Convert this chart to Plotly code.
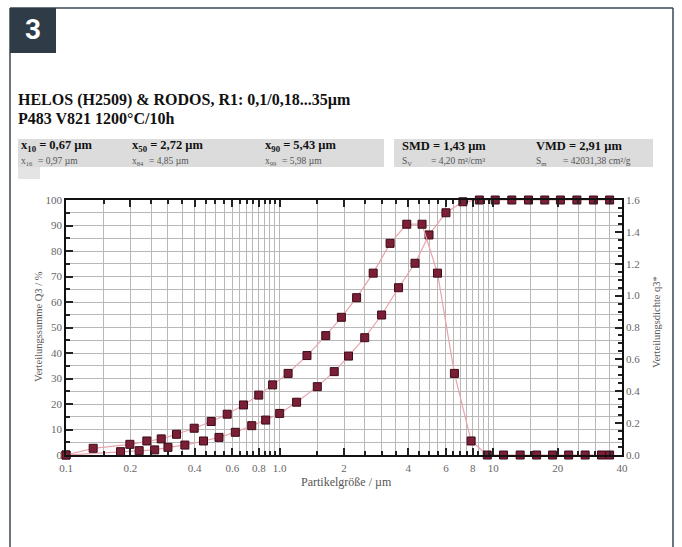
import plotly.graph_objects as go

# ---------------- data ----------------
size_upper = [0.1, 0.18, 0.22, 0.26, 0.30, 0.36, 0.44, 0.52, 0.62, 0.74, 0.86, 1.0,
              1.2, 1.5, 1.8, 2.1, 2.5, 3.0, 3.6, 4.3, 5.0, 6.0, 7.2, 8.6, 10.2,
              12.2, 14.6, 17.4, 20.6, 24.6, 29.4, 35.0]
Q3 = [0, 1.3, 1.7, 2.0, 3.0, 3.9, 5.5, 6.9, 8.9, 11.5, 13.7, 16.3,
      20.7, 26.8, 32.7, 38.8, 46.0, 54.9, 65.6, 75.2, 86.3, 95.0, 99.3, 100, 100,
      100, 100, 100, 100, 100, 100, 100]

size_mid = [0.1, 0.134, 0.199, 0.239, 0.279, 0.329, 0.398, 0.478, 0.568, 0.677, 0.798,
            0.927, 1.095, 1.342, 1.643, 1.944, 2.291, 2.739, 3.286, 3.934, 4.637,
            5.477, 6.573, 7.869, 9.366, 11.16, 13.35, 15.94, 18.93, 22.51, 26.89,
            32.08, 35.0]
q3 = [0, 0.042, 0.067, 0.088, 0.101, 0.130, 0.168, 0.210, 0.256, 0.314, 0.376,
      0.440, 0.512, 0.624, 0.749, 0.864, 0.987, 1.141, 1.328, 1.448, 1.448,
      1.141, 0.512, 0.088, 0, 0, 0, 0, 0, 0, 0, 0, 0]

x_major = [0.1, 0.2, 0.4, 0.6, 0.8, 1.0, 2, 4, 6, 8, 10, 20, 40]
x_major_text = ["0.1", "0.2", "0.4", "0.6", "0.8", "1.0", "2", "4", "6", "8", "10", "20", "40"]
x_grid = [0.15, 0.25, 0.3, 0.35, 0.45, 0.5, 0.55, 0.65, 0.7, 0.75, 0.85, 0.9, 0.95,
          1.5, 2.5, 3, 3.5, 4.5, 5, 5.5, 6.5, 7, 7.5, 8.5, 9, 9.5, 15, 25, 30, 35]

title_lines = ["HELOS (H2509) &amp; RODOS, R1: 0,1/0,18...35µm", "P483 V821 1200°C/10h"]
stats_main = ["x<sub>10</sub> = 0,67 µm", "x<sub>50</sub> = 2,72 µm", "x<sub>90</sub> = 5,43 µm",
              "SMD = 1,43 µm", "VMD = 2,91 µm"]
stats_sub_lbl = ["x<sub>16</sub>", "x<sub>84</sub>", "x<sub>99</sub>", "S<sub>V</sub>", "S<sub>m</sub>"]
stats_sub_val = ["= 0,97 µm", "= 4,85 µm", "= 5,98 µm", "= 4,20 m²/cm³", "= 42031,38 cm²/g"]

# ---------------- layout helpers ----------------
W, H = 682, 547
L, R, T, B = 66, 622, 200, 455


def px(x):
    return (x - L) / (R - L)


def py(y):
    return (B - y) / (B - T)


SERIF = "Liberation Serif, Times New Roman, serif"
MARK = "#7a1f35"
LINE = "#e9a3ad"
GRID = "#b8b8b8"

fig = go.Figure()
fig.add_trace(go.Scatter(
    x=size_upper, y=Q3, mode="lines+markers", yaxis="y", cliponaxis=False,
    line=dict(color=LINE, width=1.2),
    marker=dict(symbol="square", size=8, color=MARK, line=dict(color="#3d0a18", width=1)),
    showlegend=False))
fig.add_trace(go.Scatter(
    x=size_mid, y=q3, mode="lines+markers", yaxis="y2", cliponaxis=False,
    line=dict(color=LINE, width=1.2),
    marker=dict(symbol="square", size=8, color=MARK, line=dict(color="#3d0a18", width=1)),
    showlegend=False))

shapes = [
    # outer frame
    dict(type="line", xref="paper", yref="paper", x0=px(10), x1=px(10), y0=py(8), y1=py(560),
         line=dict(color="#3b4650", width=1.5)),
    dict(type="line", xref="paper", yref="paper", x0=px(673), x1=px(673), y0=py(8), y1=py(560),
         line=dict(color="#3b4650", width=1.5)),
    dict(type="line", xref="paper", yref="paper", x0=px(10), x1=px(673), y0=py(8), y1=py(8),
         line=dict(color="#3b4650", width=1.5)),
    # number box
    dict(type="rect", xref="paper", yref="paper", x0=px(10), x1=px(56), y0=py(8), y1=py(53),
         fillcolor="#2f3b47", line=dict(width=0)),
    # grey header bands
    dict(type="rect", xref="paper", yref="paper", x0=px(18), x1=px(384), y0=py(139), y1=py(167),
         fillcolor="#dcdcdc", line=dict(width=0), layer="below"),
    dict(type="rect", xref="paper", yref="paper", x0=px(18), x1=px(40), y0=py(167), y1=py(179),
         fillcolor="#e4e4e4", line=dict(width=0), layer="below"),
    dict(type="rect", xref="paper", yref="paper", x0=px(394), x1=px(653), y0=py(139), y1=py(167),
         fillcolor="#dcdcdc", line=dict(width=0), layer="below"),
]

ann = []
ann.append(dict(text="<b>3</b>", x=px(33), y=py(30), xref="paper", yref="paper", showarrow=False,
                font=dict(family="Roboto, DejaVu Sans, sans-serif", size=28, color="white"),
                xanchor="center", yanchor="middle"))
for i, t in enumerate(title_lines):
    ann.append(dict(text="<b>" + t + "</b>", x=px(16), y=py(100 + 18 * i), xref="paper", yref="paper",
                    showarrow=False, xanchor="left", yanchor="middle",
                    font=dict(family=SERIF, size=16, color="#111")))
cols = [19, 130, 263, 400, 534]
val_pos = [36, 147, 280, 429, 561]
for i, c in enumerate(cols):
    ann.append(dict(text="<b>" + stats_main[i] + "</b>", x=px(c), y=py(146), xref="paper", yref="paper",
                    showarrow=False, xanchor="left", yanchor="middle",
                    font=dict(family=SERIF, size=12.5, color="#111")))
    ann.append(dict(text=stats_sub_lbl[i], x=px(c), y=py(161), xref="paper", yref="paper",
                    showarrow=False, xanchor="left", yanchor="middle",
                    font=dict(family=SERIF, size=9.5, color="#555")))
    ann.append(dict(text=stats_sub_val[i], x=px(val_pos[i]), y=py(161), xref="paper", yref="paper",
                    showarrow=False, xanchor="left", yanchor="middle",
                    font=dict(family=SERIF, size=9.5, color="#555")))
# axis titles
ann.append(dict(text="Verteilungssumme Q3 / %", x=px(38), y=py(327), xref="paper", yref="paper",
                showarrow=False, textangle=-90, xanchor="center", yanchor="middle",
                font=dict(family=SERIF, size=10.5, color="#555")))
ann.append(dict(text="Verteilungsdichte q3*", x=px(656), y=py(322), xref="paper", yref="paper",
                showarrow=False, textangle=-90, xanchor="center", yanchor="middle",
                font=dict(family=SERIF, size=10.5, color="#555")))
ann.append(dict(text="Partikelgröße / µm", x=px(346), y=py(482), xref="paper", yref="paper",
                showarrow=False, xanchor="center", yanchor="middle",
                font=dict(family=SERIF, size=12, color="#555")))

tickfont = dict(family=SERIF, size=11, color="#666")

fig.update_layout(
    width=W, height=H, autosize=False,
    margin=dict(l=L, r=W - R, t=T, b=H - B, pad=0),
    paper_bgcolor="white", plot_bgcolor="white",
    shapes=shapes, annotations=ann,
    xaxis=dict(type="log", range=[-1, 1.60206], tickmode="array", tickvals=x_major,
               ticktext=x_major_text, ticks="inside", ticklen=7, tickwidth=1.5, tickcolor="#222",
               showgrid=True, gridcolor=GRID, gridwidth=1,
               minor=dict(tickmode="array", tickvals=x_grid, ticks="inside", ticklen=4,
                          tickcolor="#222", showgrid=True, gridcolor=GRID, gridwidth=1),
               showline=True, linecolor="#111", linewidth=1.5, mirror="ticks",
               zeroline=False, tickfont=tickfont, ticklabelstandoff=2),
    yaxis=dict(range=[0, 100], tickmode="linear", tick0=0, dtick=10, ticks="inside", ticklen=7,
               tickwidth=2, tickcolor="#222", showgrid=True, gridcolor=GRID, gridwidth=1,
               minor=dict(dtick=5, ticks="inside", ticklen=4, tickcolor="#222", showgrid=True,
                          gridcolor=GRID, gridwidth=1),
               showline=True, linecolor="#111", linewidth=1.5, mirror=True, zeroline=False,
               tickfont=tickfont),
    yaxis2=dict(range=[0, 1.6], overlaying="y", side="right", tickmode="linear", tick0=0, dtick=0.2,
                tickformat=".1f", ticks="inside", ticklen=7, tickwidth=2, tickcolor="#222",
                minor=dict(dtick=0.05, ticks="inside", ticklen=4, tickcolor="#222", showgrid=False),
                showgrid=False, showline=True, linecolor="#111", linewidth=1.5, zeroline=False,
                tickfont=tickfont),
)

fig.write_html("out.html")
